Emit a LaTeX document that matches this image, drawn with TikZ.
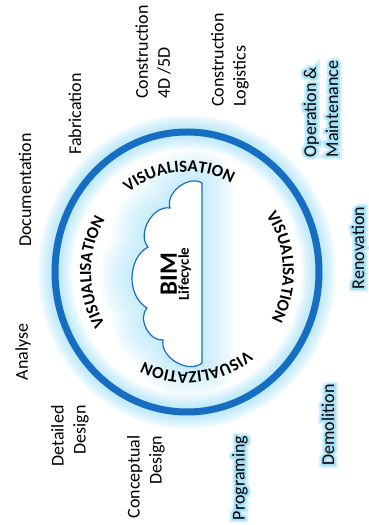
\documentclass[tikz,border=0pt]{standalone}
\usepackage{fontspec}
\setmainfont{Carlito}
\newfontfamily\halofont[FakeBold=40]{Carlito}
\newfontfamily\halofontb[FakeBold=20]{Carlito}
\usetikzlibrary{decorations.text}
\definecolor{ringblue}{RGB}{22,110,194}
\definecolor{glowblue}{RGB}{135,214,243}
\newcommand\ringtext{\fontsize{17}{17}\selectfont\bfseries}

\begin{document}
\begin{tikzpicture}[x=1pt, y=1pt,
  phase/.style={rotate=90, inner sep=0pt, font=\fontsize{18}{22}\selectfont},
  halo/.style={phase, text=glowblue!35, font=\halofont\fontsize{18}{22}\selectfont},
  halob/.style={phase, text=glowblue!75, font=\halofontb\fontsize{18}{22}\selectfont},
  glow/.style={glowblue, line width=#1, opacity=.1, line join=round},
  ringtag/.style={decorate, decoration={text along path, text align=center, text={|\ringtext|#1}}}]
\useasboundingbox (0,0) rectangle (368,525);
\coordinate (ctr) at (187,253);
\foreach \w in {34,30,...,8}
  \draw[glow=\w] (ctr) ellipse [x radius=132, y radius=140];
\draw[ringblue, line width=7] (ctr) ellipse [x radius=132, y radius=140];
\foreach \w in {64,56,...,8}
  \draw[glow=\w, opacity=.07] (202,342) to[bend right=70] (170,317) to[bend right=70] (148,278)
    to[bend right=60] (147,217) to[bend right=70] (163,185) to[bend right=70] (202,162) -- cycle;
\filldraw[fill=white, draw=ringblue, line width=1.2] (202,342) to[bend right=70] (170,317) to[bend right=70] (148,278)
    to[bend right=60] (147,217) to[bend right=70] (163,185) to[bend right=70] (202,162) -- cycle;
\node[rotate=90, align=center, inner sep=0pt] (bim) at (176,251) {{\fontsize{25}{26}\selectfont\bfseries BIM}\\{\fontsize{15}{16}\selectfont\bfseries Lifecycle}};
\path[ringtag=VISUALISATION] ([shift={(135:96 and 100)}]ctr) arc[start angle=135, end angle=55, x radius=96, y radius=100];
\path[ringtag=VISUALISATION] ([shift={(43:96 and 100)}]ctr) arc[start angle=43, end angle=-37, x radius=96, y radius=100];
\path[ringtag=VISUALIZATION] ([shift={(316:96 and 100)}]ctr) arc[start angle=316, end angle=236, x radius=96, y radius=100];
\path[ringtag=VISUALISATION] ([shift={(220:96 and 100)}]ctr) arc[start angle=220, end angle=140, x radius=96, y radius=100];
\node[phase] (ana) at (23,173) {Analyse};
\node[phase] (doc) at (25,335) {Documentation};
\node[phase] (fab) at (75,411) {Fabrication};
\node[phase, align=left] (c4d) at (153,473) {Construction\\4D /5D};
\node[phase, align=left] (clog) at (230,465) {Construction\\Logistics};
\node[phase, align=right] (dds) at (70,89) {Detailed\\Design};
\node[phase, align=right] (cds) at (146,48) {Conceptual\\Design};
\node[halo, align=left] (opm-h) at (321,416) {Operation \&\\Maintenance};
\node[halo] (ren-h) at (358,277) {Renovation};
\node[halo] (dem-h) at (328,100) {Demolition};
\node[halo] (prg-h) at (240,47) {Programing};
\node[halob, align=left] (opm-hb) at (321,416) {Operation \&\\Maintenance};
\node[halob] (ren-hb) at (358,277) {Renovation};
\node[halob] (dem-hb) at (328,100) {Demolition};
\node[halob] (prg-hb) at (240,47) {Programing};
\node[phase, align=left] (opm) at (321,416) {Operation \&\\Maintenance};
\node[phase] (ren) at (358,277) {Renovation};
\node[phase] (dem) at (328,100) {Demolition};
\node[phase] (prg) at (240,47) {Programing};
\end{tikzpicture}
\end{document}
